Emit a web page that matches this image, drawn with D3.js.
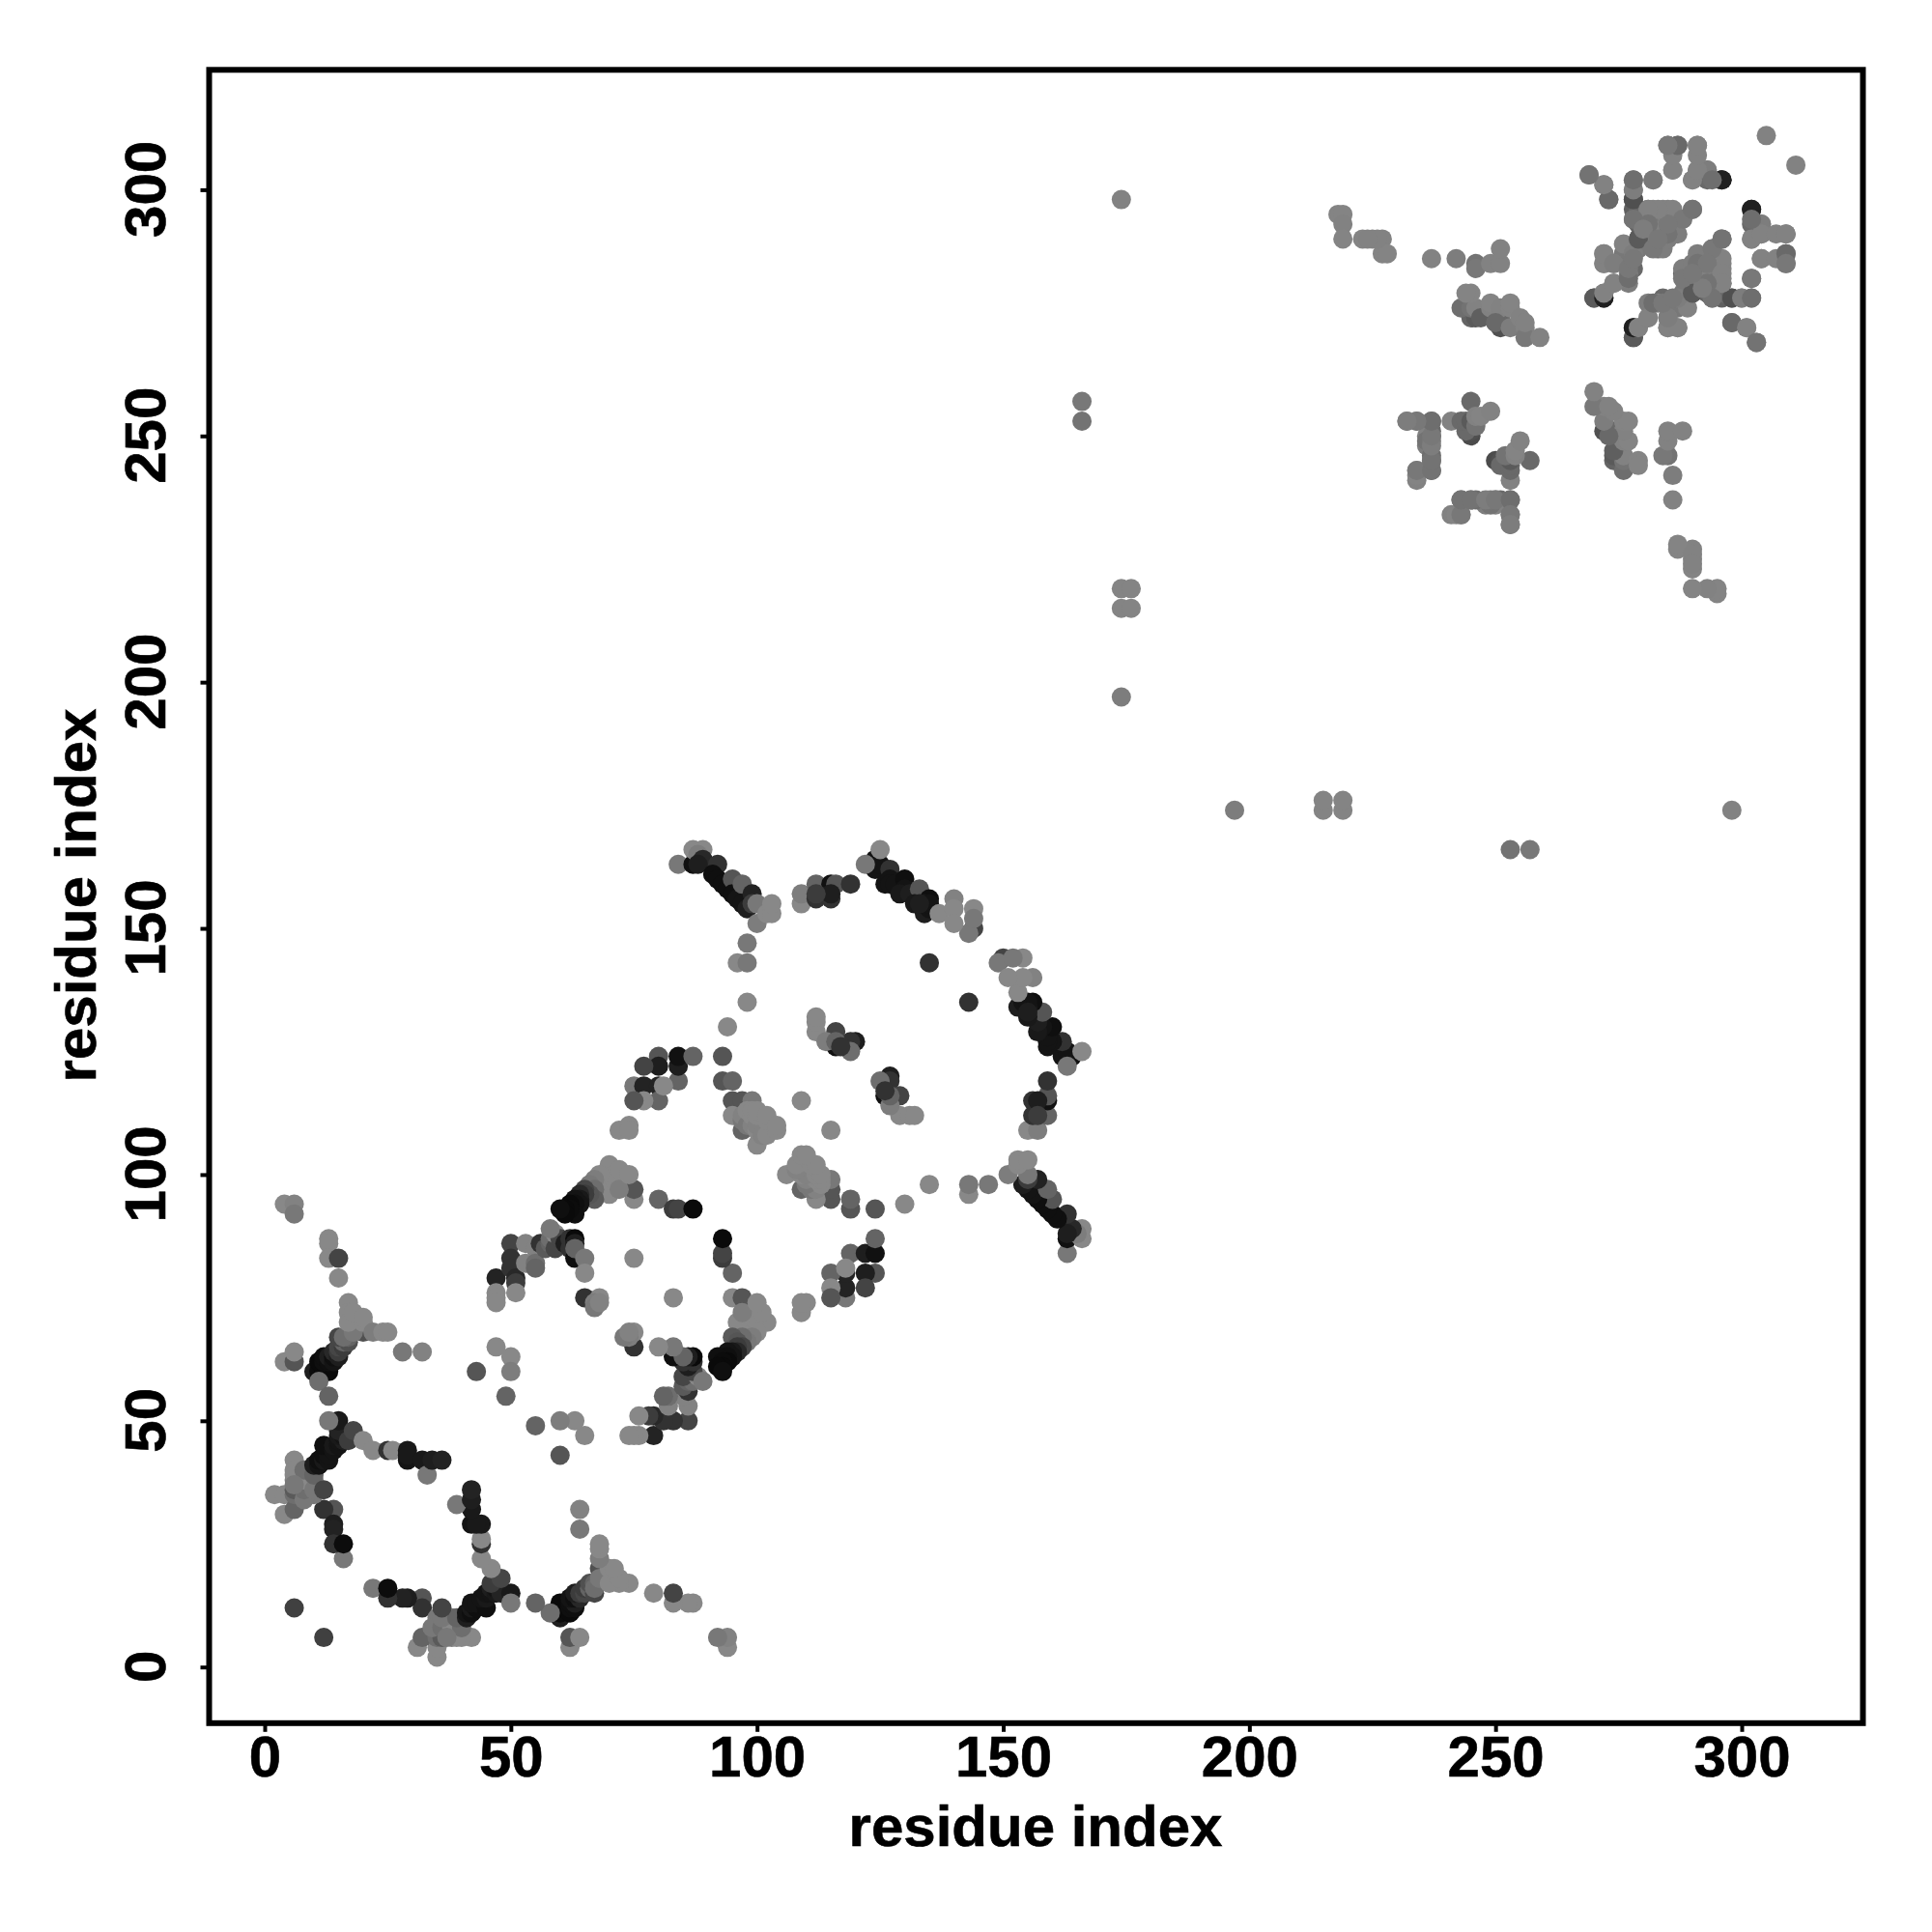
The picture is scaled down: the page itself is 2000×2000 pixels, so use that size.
<!DOCTYPE html>
<html><head><meta charset="utf-8">
<script src="https://cdn.jsdelivr.net/npm/d3@7"></script>
<style>html,body{margin:0;padding:0;background:#fff}text{font-family:"Liberation Sans",Arial,sans-serif;font-weight:bold;fill:#000;stroke:#000;stroke-width:.6px}</style>
</head><body><svg id="c" width="2000" height="2000"></svg>
<script>
// contacts: [residue i, residue j, grey level]; the map is symmetric
const bundleA=[[6,12,64],[16,22,120],[14,32,85],[12,32,50],[14,29,30],[14,28,34],[14,25,50],[16,25,12],
[6,42,136],[6,40,136],[6,38,125],[7,38,110],[7,36,100],[10,38,125],[10,35,120],[2,35,136],[4,35,136],[4,31,136],[6,32,100],[6,35,110],[6,36,90],[6,39,136],[8,34,120],[8,36,110],[8,38,136],[8,40,110],[10,36,120],[10,39,100],[6,37,120],[12,36,68],
[10,41,30],[11,41,20],[11,42,15],[12,42,25],[12,43,15],[13,42,20],[13,43,20],[12,45,15],[14,44,20],[14,45,25],[15,45,20],[15,46,20],[16,46,30],[15,47,25],[16,47,20],[15,48,35],[15,50,25],[13,50,120],[17,46,60],[18,48,70],[20,46,136],[22,44,136],[25,44,50],[26,44,136],[29,44,25],[29,42,20],[29,43,25],[32,42,25],[33,39,120],[34,42,30],[36,42,35]];
const bundleB=[[10,60,30],[11,60,12],[12,60,10],[13,60,10],[11,62,10],[12,62,15],[12,63,15],[13,62,15],[13,63,30],[14,62,20],[14,63,15],[14,64,40],[15,63,30],[15,64,60],[15,65,70],[16,65,60],[16,66,100],[15,67,70],[17,66,80],[17,67,100],[16,67,110],[11,58,110],[13,55,100],[4,62,136],[6,62,85],[6,64,136],
[20,68,80],[18,68,120],[17,74,136],[17,72,136],[17,70,136],[18,72,136],[20,70,136],[20,71,136],[22,68,125],[24,68,136],[25,68,136],[28,64,120],[32,64,130],[13,87,136],[13,86,136],[13,83,136],[15,83,68],[15,79,136],[4,94,136],[6,94,130],[6,92,120]];
const bundleC=[[43,60,85],[47,65,136],[50,63,136],[50,60,125],[49,55,100],[47,79,35],[50,86,68],[50,83,50],[50,81,50],[51,79,40],[51,78,60],[51,76,136],[47,76,136],[47,75,136],[47,74,136],[53,86,130],[55,85,130],[53,82,130],[55,82,110],[55,81,100],[56,86,50],[57,85,90],[58,86,100],[58,87,110],[59,85,70],[59,88,136],[60,87,70],[61,86,30],[62,87,50],[62,85,50],[63,87,10],[63,86,30],[63,83,15],[63,85,100],[65,83,120],[65,80,136],[65,75,50],[68,75,136],[67,74,125],[67,73,120],[68,74,130],[58,89,120],[75,83,136],[75,95,136],[75,97,85],[80,95,100],[83,93,60],[84,93,68],[87,93,10]];
const bundleE=[[69,98,136],[69,100,136],[70,96,136],[70,100,136],[70,102,136],[71,99,136],[71,100,136],[72,97,125],[72,101,136],[74,100,136],[68,100,136],[67,99,125],[66,98,120],[67,97,110],[67,95,90],[66,96,85],[65,97,70],[65,96,60],[64,96,40],[64,95,25],[64,94,20],[63,95,20],[63,94,15],[63,92,15],[62,94,10],[62,93,12],[61,93,10],[61,92,10],[60,93,15]];
const bundleF=[[93,124,85],[93,119,85],[95,119,100],[95,115,85],[97,115,85],[99,115,120],[95,112,136],[97,109,100],[97,111,120],[97,112,130],[98,110,120],[98,113,136],[99,110,130],[99,112,136],[99,113,136],[100,106,136],[100,109,136],[100,110,130],[100,112,136],[100,113,136],[101,108,130],[102,108,136],[102,111,136],[102,112,136],[104,109,136],[104,110,136],[109,115,136],
[72,109,136],[74,110,136],[74,109,136],[75,118,120],[77,118,35],[80,118,35],[80,115,100],[77,115,136],[75,115,85],[84,119,100],[81,118,136],[84,122,30],[84,124,17],[80,124,85],[80,122,30],[77,122,68],[87,124,100]];
const bundleH=[[84,163,120],[87,163,17],[87,166,136],[89,166,136],[88,165,125],[89,164,40],[92,163,50],[88,163,30],[91,161,15],[92,160,15],[93,159,15],[94,158,15],[95,160,85],[95,157,15],[96,156,20],[97,159,100],[97,155,20],[98,154,30],[99,157,34],[99,155,60],[100,155,120],[100,151,125],[102,153,136],[103,153,136],[103,155,136],[98,147,120],[96,143,136],[98,143,120],[98,135,136],[94,130,136]];
const bundleI=[[109,155,136],[109,157,125],[112,159,100],[112,156,50],[115,159,17],[115,156,50],[116,159,85],[119,159,50],[115,157,30],[112,157,60],
[124,164,17],[124,162,20],[125,163,20],[127,162,50],[126,159,20],[127,160,20],[127,159,20],[128,159,20],[130,160,15],[130,158,20],[129,157,25],[131,157,30],[133,158,85],[132,155,25],[135,156,15],[134,153,30],[134,155,25],[135,154,20],[135,155,20],[133,155,30],[122,163,120],[125,166,136],[137,153,136],[144,150,68],[143,149,120],[140,156,130],[140,154,136],[140,151,136],[144,154,136],[144,152,120],[135,143,50]];
const bundleK=[[116,126,17],[120,127,30],[119,127,50],[116,129,68],[112,129,136],[112,131,136],[112,132,136],[114,127,125],[116,127,100],[119,125,110],[117,126,50]];
const isolated=[[174,298,130],[166,257,120],[166,253,115],[174,219,132],[176,219,132],[174,215,132],[176,215,132],[174,197,125]];
const bundleM=[[218,295,132],[219,295,132],[219,293,130],[219,290,132],[223,290,132],[225,290,130],[227,290,130],[227,287,132],[228,287,132],[226,290,130],[224,290,130],
[237,286,130],[242,286,125],[246,285,115],[246,284,120],[249,285,130],[251,285,130],[251,288,130]];
const bundleN=[[237,251,105],[237,250,95],[236,250,130],[236,248,125],[236,249,115],[237,249,120],[237,246,110],[237,245,115],[237,243,115],[234,243,130],[234,241,130],[234,242,132],[232,253,130],[234,253,125],[237,253,120],[241,253,130],
[243,234,120],[243,237,115],[245,237,115],[248,237,125],[250,237,120],[253,237,110],[253,234,120],[253,232,125],
[245,250,75],[245,251,80],[244,251,105],[243,253,105],[244,253,105],[245,253,90],[245,257,105],[246,252,115],[246,254,130],[247,254,132],[249,255,130]];
const bundleO=[[245,274,100],[246,274,90],[243,276,110],[245,276,115],[246,276,130],[245,279,132],[244,279,132],[247,274,95],[251,272,80],[251,274,105],[249,276,130],[249,277,132],[251,276,130],[250,273,105],[253,272,125],[253,276,132],[253,277,132],[255,274,130],[256,272,130],[256,270,120],[256,273,130],[259,270,130]];
const bundleP=[[278,296,95],[278,298,95],[278,294,110],[279,290,90],[269,303,120],[272,301,130],[273,298,115],[278,302,130],[278,300,130],[282,302,125],[286,304,130],[285,309,115],[287,309,110],[291,309,120],[291,304,130],[290,302,130],[293,304,120],[293,302,105],[296,302,32],[305,311,130],[302,296,32],
[276,287,120],[276,289,130],[282,289,110],[280,289,130],[279,288,120],[278,287,125],[279,293,100],[279,294,100],[279,296,105],[280,292,130],[280,294,125],[281,291,130],[281,292,125],[281,294,125],[281,296,125],[282,292,125],[282,296,132],[283,288,105],[283,290,130],[283,292,125],[283,293,130],[283,294,120],[284,288,125],[284,292,130],[284,296,132],[285,290,125],[285,294,130],[285,296,130],[286,292,125],[286,296,130],[287,291,125],[288,294,130],[290,296,125],[285,291,125],[272,287,130],[272,285,130],[274,285,130],[278,284,105],[277,283,130],[274,281,130],[270,278,85],[272,278,32],[272,279,130],[277,281,125],
[278,270,90],[278,272,32],[279,272,130],[281,274,130],[285,272,130],[287,272,130],[285,274,125],[282,277,110],[284,277,120],[286,278,120],[290,279,90],[288,282,120],[291,285,115],[294,288,120],[296,290,115],[293,285,120],[298,278,80],[296,283,130],[296,281,130],[294,278,115],[293,281,115],[292,280,125],[290,283,120],[300,278,125],[302,278,110],[302,282,120],[298,273,105],[301,272,130],[303,269,115],
[302,290,130],[304,293,125],[304,291,130],[302,294,110],[307,291,130],[309,291,130],[304,286,130],[307,286,130],[309,287,105],[309,285,120]];

const contacts=[...bundleA,...bundleB,...bundleC,...bundleE,...bundleF,...bundleH,...bundleI,...bundleK,...isolated,...bundleM,...bundleN,...bundleO,...bundleP];
const tickValues=[0,50,100,150,200,250,300];
const axisTitle="residue index";

const x=d3.scaleLinear().domain([0,300]).range([274,1803]);
const y=d3.scaleLinear().domain([0,300]).range([1725.7,196.4]);
const svg=d3.select("#c");
const dots=contacts.flatMap(d=>[{a:d[0],b:d[1],g:d[2]},{a:d[1],b:d[0],g:d[2]}]);
svg.append("g").selectAll("circle").data(dots).join("circle")
 .attr("cx",d=>x(d.a)).attr("cy",d=>y(d.b)).attr("r",10)
 .attr("fill",d=>d3.rgb(d.g,d.g,d.g).formatHex());
svg.append("rect").attr("x",216.5).attr("y",72.3).attr("width",1712).attr("height",1711.5)
 .attr("fill","none").attr("stroke","#000").attr("stroke-width",6);
const gx=svg.append("g").attr("transform","translate(0,1783.8)").call(d3.axisBottom(x).tickValues(tickValues).tickSize(9).tickPadding(0));
const gy=svg.append("g").attr("transform","translate(216.5,0)").call(d3.axisLeft(y).tickValues(tickValues).tickSize(9));
[gx,gy].forEach(g=>{g.select(".domain").remove();g.selectAll("line").attr("stroke","#000").attr("stroke-width",4);g.selectAll("text").attr("dy",null).style("font-size","60px").style("font-family",'"Liberation Sans"').style("font-weight","bold").attr("text-anchor","middle");});
gx.selectAll("text").attr("y",55.5);
gy.selectAll("text").attr("x",0).attr("y",0).attr("transform","translate(-45.5,-1) rotate(-90)");
svg.append("text").attr("x",1072).attr("y",1910.7).attr("text-anchor","middle").style("font-size","60px").text(axisTitle);
svg.append("text").attr("transform","translate(98.7,927) rotate(-90)").attr("text-anchor","middle").style("font-size","60px").text(axisTitle);
</script></body></html>
